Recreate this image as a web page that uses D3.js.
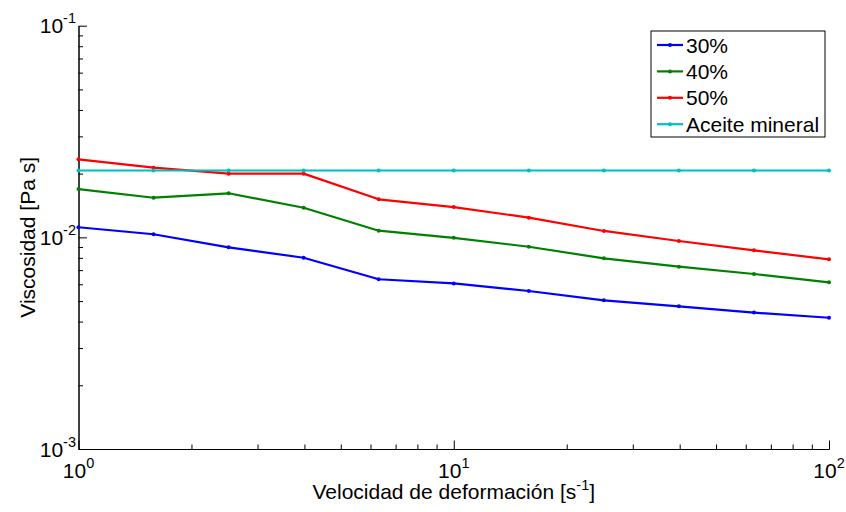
<!DOCTYPE html>
<html>
<head>
<meta charset="utf-8">
<script src="https://cdn.jsdelivr.net/npm/d3@7"></script>
<style>
  html, body { margin: 0; padding: 0; background: #fff; }
  svg { display: block; font-family: Arial, "Liberation Sans", sans-serif; }
</style>
</head>
<body>
<svg id="chart" width="846" height="512"></svg>
<script>
// Shear rate [1/s]
const shearRate = [1, 1.585, 2.512, 3.981, 6.31, 10, 15.85, 25.12, 39.81, 63.1, 100];

// Viscosity [Pa s] for each concentration
const visc30 = [0.01116, 0.01034, 0.00897, 0.00801, 0.00634, 0.00606, 0.00558, 0.00504, 0.00472, 0.00441, 0.00417];
const visc40 = [0.0169, 0.01539, 0.01615, 0.0138, 0.01075, 0.00995, 0.00903, 0.00796, 0.00727, 0.00671, 0.00613];
const visc50 = [0.02338, 0.02134, 0.0200, 0.0200, 0.01513, 0.0139, 0.01239, 0.01072, 0.00961, 0.00868, 0.00787];
const viscOil = [0.0207, 0.0207, 0.0207, 0.0207, 0.0207, 0.0207, 0.0207, 0.0207, 0.0207, 0.0207, 0.0207];

const seriesNames = ["30%", "40%", "50%", "Aceite mineral"];
const seriesColors = ["#0000ff", "#008000", "#ff0000", "#00bfbf"];

const xMajorTicks = [1, 10, 100];
const xMajorExp = ["0", "1", "2"];
const yMajorTicks = [0.001, 0.01, 0.1];
const yMajorExp = ["-3", "-2", "-1"];

const series = [visc30, visc40, visc50, viscOil].map((vals, i) => ({
  name: seriesNames[i],
  color: seriesColors[i],
  points: vals.map((v, j) => ({ x: shearRate[j], y: v }))
}));

const svg = d3.select("#chart");
const plotLeft = 78.5, plotRight = 829, plotTop = 25.7, plotBottom = 449;
const fontSize = 21, supSize = 14.5;

const x = d3.scaleLog().domain([1, 100]).range([plotLeft, plotRight]);
const y = d3.scaleLog().domain([0.001, 0.1]).range([plotBottom, plotTop]);

const minorX = x.ticks().filter(v => !xMajorTicks.some(m => Math.abs(m - v) < 1e-9));
const minorY = y.ticks().filter(v => !yMajorTicks.some(m => Math.abs(m - v) < 1e-12));

// Axes: ticks drawn inward, major longer than minor
function styleAxis(g) {
  g.select(".domain").attr("stroke", "#000").attr("stroke-width", 1);
  g.selectAll(".tick line").attr("stroke", "#000").attr("stroke-width", 1);
  g.selectAll(".tick text").remove();
}

svg.append("g")
  .attr("transform", `translate(0,${plotBottom})`)
  .call(d3.axisBottom(x).tickValues(xMajorTicks).tickSizeInner(-8.5).tickSizeOuter(0))
  .call(styleAxis);
svg.append("g")
  .attr("transform", `translate(0,${plotBottom})`)
  .call(d3.axisBottom(x).tickValues(minorX).tickSizeInner(-4.5).tickSizeOuter(0))
  .call(styleAxis);
svg.append("g")
  .attr("transform", `translate(${plotLeft},0)`)
  .call(d3.axisLeft(y).tickValues(yMajorTicks).tickSizeInner(-8.5).tickSizeOuter(0))
  .call(styleAxis);
svg.append("g")
  .attr("transform", `translate(${plotLeft},0)`)
  .call(d3.axisLeft(y).tickValues(minorY).tickSizeInner(-4.5).tickSizeOuter(0))
  .call(styleAxis);

// Power-of-ten tick labels
function powerLabel(sel, exp) {
  sel.append("tspan").text("10");
  sel.append("tspan").attr("font-size", supSize).attr("dy", -10).text(exp);
}

yMajorTicks.forEach((v, i) => {
  const t = svg.append("text")
    .attr("x", 76)
    .attr("y", y(v) + 7.5)
    .attr("text-anchor", "end")
    .attr("font-size", fontSize)
    .attr("fill", "#000");
  powerLabel(t, yMajorExp[i]);
});

xMajorTicks.forEach((v, i) => {
  const t = svg.append("text")
    .attr("x", x(v))
    .attr("y", 477.5)
    .attr("text-anchor", "middle")
    .attr("font-size", fontSize)
    .attr("fill", "#000");
  powerLabel(t, xMajorExp[i]);
});

// Axis titles
const xt = svg.append("text")
  .attr("x", (plotLeft + plotRight) / 2)
  .attr("y", 499)
  .attr("text-anchor", "middle")
  .attr("font-size", fontSize)
  .attr("fill", "#000");
xt.append("tspan").text("Velocidad de deformación [s");
xt.append("tspan").attr("font-size", supSize).attr("dy", -9).text("-1");
xt.append("tspan").attr("dy", 9).text("]");

svg.append("text")
  .attr("transform", `translate(35,${(plotTop + plotBottom) / 2}) rotate(-90)`)
  .attr("text-anchor", "middle")
  .attr("font-size", fontSize)
  .attr("fill", "#000")
  .text("Viscosidad [Pa s]");

// Data lines with point markers
const line = d3.line().x(d => x(d.x)).y(d => y(d.y));

series.forEach(s => {
  svg.append("path")
    .datum(s.points)
    .attr("fill", "none")
    .attr("stroke", s.color)
    .attr("stroke-width", 2.2)
    .attr("stroke-linejoin", "round")
    .attr("d", line);
  svg.append("g")
    .selectAll("circle")
    .data(s.points)
    .join("circle")
    .attr("cx", d => x(d.x))
    .attr("cy", d => y(d.y))
    .attr("r", 2)
    .attr("fill", s.color);
});

// Legend
const lg = svg.append("g");
lg.append("rect")
  .attr("x", 651).attr("y", 31)
  .attr("width", 174).attr("height", 106)
  .attr("fill", "#fff")
  .attr("stroke", "#000")
  .attr("stroke-width", 1);

series.forEach((s, i) => {
  const ly = 45 + i * 26.4;
  lg.append("line")
    .attr("x1", 657).attr("x2", 683)
    .attr("y1", ly).attr("y2", ly)
    .attr("stroke", s.color)
    .attr("stroke-width", 2.2);
  lg.append("circle")
    .attr("cx", 670).attr("cy", ly).attr("r", 2)
    .attr("fill", s.color);
  lg.append("text")
    .attr("x", 686)
    .attr("y", ly + 7.5)
    .attr("font-size", fontSize)
    .attr("fill", "#000")
    .text(s.name);
});
</script>
</body>
</html>
